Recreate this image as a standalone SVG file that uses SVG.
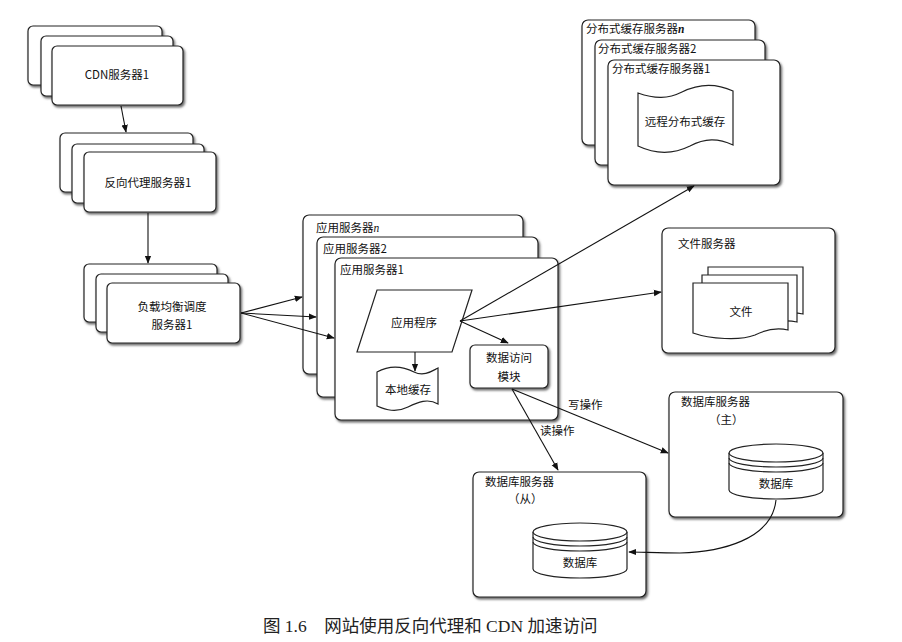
<svg xmlns="http://www.w3.org/2000/svg" width="902" height="642" viewBox="0 0 902 642">
<defs>
<filter id="sh" x="-10%" y="-10%" width="120%" height="130%"><feDropShadow dx="1.5" dy="2" stdDeviation="1" flood-color="#444" flood-opacity="0.8"/></filter>
<marker id="ar" viewBox="0 0 10 10" refX="9" refY="5" markerWidth="8" markerHeight="8" orient="auto-start-reverse" markerUnits="userSpaceOnUse"><path d="M0,1 L10,5 L0,9 Z" fill="#111"/></marker>
<style>
.bx{fill:#fff;stroke:#222;stroke-width:1.2;filter:url(#sh)}
.sh{fill:#fff;stroke:#222;stroke-width:1.2}
.t{font-family:"Noto Sans CJK SC","Liberation Sans",sans-serif;font-size:11.5px;fill:#111}
.c{text-anchor:middle}
.ln{fill:none;stroke:#111;stroke-width:1.1;marker-end:url(#ar)}
.cap{font-family:"Liberation Serif","Noto Sans CJK SC",serif;font-size:17.5px;fill:#222}
</style>
</defs>
<rect width="902" height="642" fill="#fff"/>

<g id="cdn">
<rect class="bx" x="28" y="26" width="134" height="59" rx="5"/>
<rect class="bx" x="41" y="36" width="132" height="60" rx="5"/>
<rect class="bx" x="52" y="46" width="131" height="59" rx="5"/>
<text class="t c" x="117" y="79">CDN服务器1</text>
</g>

<g id="proxy">
<rect class="bx" x="60" y="133" width="133" height="59" rx="5"/>
<rect class="bx" x="72" y="144" width="132" height="59" rx="5"/>
<rect class="bx" x="84" y="152" width="132" height="60" rx="5"/>
<text class="t c" x="148" y="187">反向代理服务器1</text>
</g>

<g id="lb">
<rect class="bx" x="84" y="264" width="133" height="58" rx="5"/>
<rect class="bx" x="96" y="274" width="132" height="58" rx="5"/>
<rect class="bx" x="107" y="283" width="133" height="60" rx="5"/>
<text class="t c" x="172" y="311">负载均衡调度</text>
<text class="t c" x="172" y="329">服务器1</text>
</g>

<g id="app">
<rect class="bx" x="303" y="215" width="220" height="159" rx="6"/>
<text class="t" x="316" y="232">应用服务器<tspan font-style="italic" font-family="Liberation Serif">n</tspan></text>
<rect class="bx" x="317" y="237" width="221" height="160" rx="6"/>
<text class="t" x="323" y="253">应用服务器2</text>
<rect class="bx" x="335" y="258" width="223" height="162" rx="6"/>
<text class="t" x="340" y="274">应用服务器1</text>
</g>

<g id="program">
<path class="sh" d="M377,290 L472,290 L452,352 L357,352 Z"/>
<text class="t c" x="414" y="327">应用程序</text>
</g>

<g id="localcache">
<path class="sh" d="M377,372 C392,364 404,367 414,372 C424,377 432,371 438,368 L438,404 C428,398 418,402 408,407 C396,413 386,410 377,406 Z"/>
<text class="t c" x="408" y="394">本地缓存</text>
</g>

<g id="dao">
<rect class="bx" x="470" y="345" width="78" height="43" rx="5"/>
<text class="t c" x="509" y="362">数据访问</text>
<text class="t c" x="509" y="381">模块</text>
</g>

<g id="dcache">
<rect class="bx" x="582" y="20" width="173" height="125" rx="6"/>
<text class="t" x="586" y="33">分布式缓存服务器<tspan font-style="italic" font-weight="bold" font-family="Liberation Serif">n</tspan></text>
<rect class="bx" x="595" y="40" width="170" height="125" rx="6"/>
<text class="t" x="598" y="53">分布式缓存服务器2</text>
<rect class="bx" x="608" y="60" width="172" height="125" rx="6"/>
<text class="t" x="612" y="73">分布式缓存服务器1</text>
<path class="sh" d="M638,93 C655,99 668,99 682,92 C700,83 718,84 733,91 L733,145 C718,138 705,138 690,146 C672,155 655,154 638,146 Z"/>
<text class="t c" x="685" y="126">远程分布式缓存</text>
</g>

<g id="fileserver">
<rect class="bx" x="662" y="228" width="173" height="125" rx="6"/>
<text class="t" x="678" y="248">文件服务器</text>
<path class="sh" d="M708,267 L803,267 L803,314 C790,311 780,314 770,318 C755,324 725,322 708,316 Z"/>
<path class="sh" d="M702,275 L797,275 L797,322 C784,319 774,322 764,326 C749,332 719,330 702,324 Z"/>
<path class="sh" d="M693,283 L788,283 L788,330 C775,327 765,330 755,335 C740,341 710,339 693,333 Z"/>
<text class="t c" x="741" y="316">文件</text>
</g>

<g id="dbmaster">
<rect class="bx" x="669" y="392" width="174" height="125" rx="6"/>
<text class="t" x="681" y="406">数据库服务器</text>
<text class="t" x="709" y="424">（主）</text>
<path class="sh" d="M729,453 L729,490 A47,9 0 0 0 823,490 L823,453"/>
<ellipse class="sh" cx="776" cy="453" rx="47" ry="9"/>
<path d="M729,458 A47,9 0 0 0 823,458 M729,463 A47,9 0 0 0 823,463" fill="none" stroke="#222" stroke-width="1.1"/>
<text class="t c" x="776" y="488">数据库</text>
</g>

<g id="dbslave">
<rect class="bx" x="473" y="472" width="173" height="125" rx="6"/>
<text class="t" x="485" y="486">数据库服务器</text>
<text class="t" x="508" y="503">（从）</text>
<path class="sh" d="M533,532 L533,569 A47,9 0 0 0 627,569 L627,532"/>
<ellipse class="sh" cx="580" cy="532" rx="47" ry="9"/>
<path d="M533,537 A47,9 0 0 0 627,537 M533,542 A47,9 0 0 0 627,542" fill="none" stroke="#222" stroke-width="1.1"/>
<text class="t c" x="580" y="567">数据库</text>
</g>

<g id="connectors">
<line class="ln" x1="121" y1="106" x2="126" y2="132"/>
<line class="ln" x1="148" y1="213" x2="148" y2="263"/>
<line class="ln" x1="241" y1="313" x2="302" y2="297"/>
<line class="ln" x1="241" y1="313" x2="316" y2="317"/>
<line class="ln" x1="241" y1="313" x2="334" y2="338"/>
<line class="ln" x1="415" y1="352" x2="415" y2="371"/>
<line class="ln" x1="460" y1="321" x2="508" y2="343"/>
<line class="ln" x1="460" y1="321" x2="694" y2="186"/>
<line class="ln" x1="460" y1="321" x2="661" y2="292"/>
<line class="ln" x1="512" y1="389" x2="668" y2="453"/>
<line class="ln" x1="512" y1="389" x2="558" y2="470"/>
<path class="ln" d="M776,500 C772,540 720,552 680,553 C660,553 640,552 629,552"/>
<text class="t" x="568" y="409">写操作</text>
<text class="t" x="540" y="435">读操作</text>
</g>

<text class="cap" x="263" y="632">图 1.6　网站使用反向代理和 CDN 加速访问</text>
</svg>
